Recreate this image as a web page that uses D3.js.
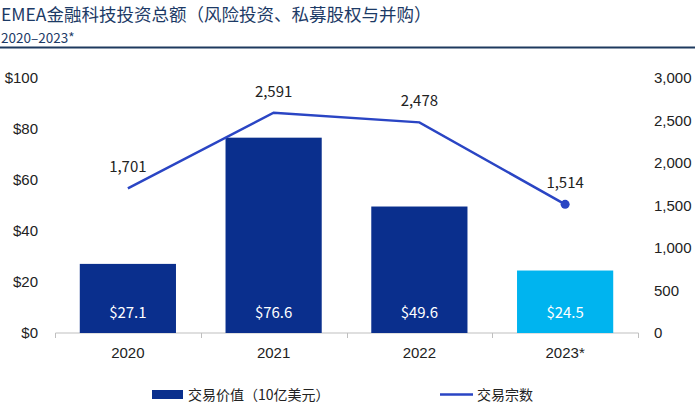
<!DOCTYPE html>
<html><head><meta charset="utf-8">
<script src="https://cdn.jsdelivr.net/npm/d3@7"></script>
<style>body{margin:0;background:#fff;}svg{display:block;font-family:"Noto Sans CJK SC","Noto Sans",sans-serif;}</style>
</head><body><svg id="c" width="700" height="412"></svg>
<script>
const years = ["2020","2021","2022","2023*"];
const dealValue = [27.1, 76.6, 49.6, 24.5];
const dealCount = [1701, 2591, 2478, 1514];
const leftTicks = [0,20,40,60,80,100];
const rightTicks = [0,500,1000,1500,2000,2500,3000];
const title = "EMEA金融科技投资总额（风险投资、私募股权与并购）";
const subtitle = "2020–2023*";
const legendLabels = ["交易价值（10亿美元）","交易宗数"];

const svg = d3.select("#c");
const navy = "#0a2f8d", cyan = "#00b4ef", lineC = "#2a45c4", textC = "#222";

svg.append("text").attr("x",1).attr("y",21).attr("font-size",17.5).attr("fill","#1c3a66").text(title);
svg.append("text").attr("x",1).attr("y",42.5).attr("font-size",13.5).attr("fill","#1c3a66").text(subtitle);
svg.append("line").attr("x1",0).attr("x2",695).attr("y1",47.5).attr("y2",47.5).attr("stroke","#1e3a5f").attr("stroke-width",2);

const x = d3.scaleBand().domain(years).range([55,638]).paddingInner(0.34).paddingOuter(0.17);
const y = d3.scaleLinear().domain([0,100]).range([333,78]);
const y2 = d3.scaleLinear().domain([0,3000]).range([333,78]);

// x axis line and ticks
const xAxis = d3.axisBottom(x).tickSize(0).tickPadding(14);
const gx = svg.append("g").attr("transform","translate(0,333)").call(xAxis);
gx.select(".domain").attr("stroke","#bfbfbf").attr("d","M55.5,0H638.5");
gx.selectAll("text").attr("font-size",15).attr("fill",textC).attr("font-family",null);
const bounds = [55].concat(years.map(d=>x(d)+x.bandwidth()+x.step()*x.paddingInner()/2)).slice(0,4).concat([638]);
svg.append("g").selectAll("line").data(bounds).join("line")
  .attr("x1",d=>Math.round(d)+0.5).attr("x2",d=>Math.round(d)+0.5).attr("y1",333).attr("y2",338).attr("stroke","#bfbfbf");

// left axis
const gl = svg.append("g").attr("transform","translate(38,0)").call(d3.axisLeft(y).tickValues(leftTicks).tickSize(0).tickPadding(0).tickFormat(d=>"$"+d));
gl.select(".domain").remove();
gl.selectAll("text").attr("font-size",15).attr("fill",textC).attr("font-family",null);
// right axis
const gr = svg.append("g").attr("transform","translate(654,0)").call(d3.axisRight(y2).tickValues(rightTicks).tickSize(0).tickPadding(0).tickFormat(d3.format(",")));
gr.select(".domain").remove();
gr.selectAll("text").attr("font-size",15).attr("fill",textC).attr("font-family",null);

// bars
svg.append("g").selectAll("rect").data(years).join("rect")
  .attr("x",d=>x(d)).attr("width",x.bandwidth())
  .attr("y",(d,i)=>y(dealValue[i])).attr("height",(d,i)=>y(0)-y(dealValue[i]))
  .attr("fill",(d,i)=>i===3?cyan:navy);
svg.append("g").selectAll("text").data(years).join("text")
  .attr("x",d=>x(d)+x.bandwidth()/2).attr("y",318).attr("text-anchor","middle")
  .attr("font-size",15).attr("fill","#fff").text((d,i)=>"$"+dealValue[i].toFixed(1));

// line
const cx = d=>x(d)+x.bandwidth()/2;
svg.append("path").datum(years).attr("fill","none").attr("stroke",lineC).attr("stroke-width",2.5)
  .attr("d",d3.line().x(cx).y((d,i)=>y2(dealCount[i])));
svg.append("circle").attr("cx",cx(years[3])).attr("cy",y2(dealCount[3])).attr("r",4.5).attr("fill",lineC);
svg.append("g").selectAll("text").data(years).join("text")
  .attr("x",cx).attr("y",(d,i)=>y2(dealCount[i])-16).attr("text-anchor","middle")
  .attr("font-size",15).attr("fill",textC).text((d,i)=>d3.format(",")(dealCount[i]));

// legend
svg.append("rect").attr("x",152).attr("y",390).attr("width",31).attr("height",9).attr("fill",navy);
svg.append("text").attr("x",188).attr("y",400).attr("font-size",14).attr("fill",textC).text(legendLabels[0]);
svg.append("line").attr("x1",440).attr("x2",473).attr("y1",394.5).attr("y2",394.5).attr("stroke",lineC).attr("stroke-width",2.5);
svg.append("text").attr("x",477).attr("y",400).attr("font-size",14).attr("fill",textC).text(legendLabels[1]);
</script></body></html>
